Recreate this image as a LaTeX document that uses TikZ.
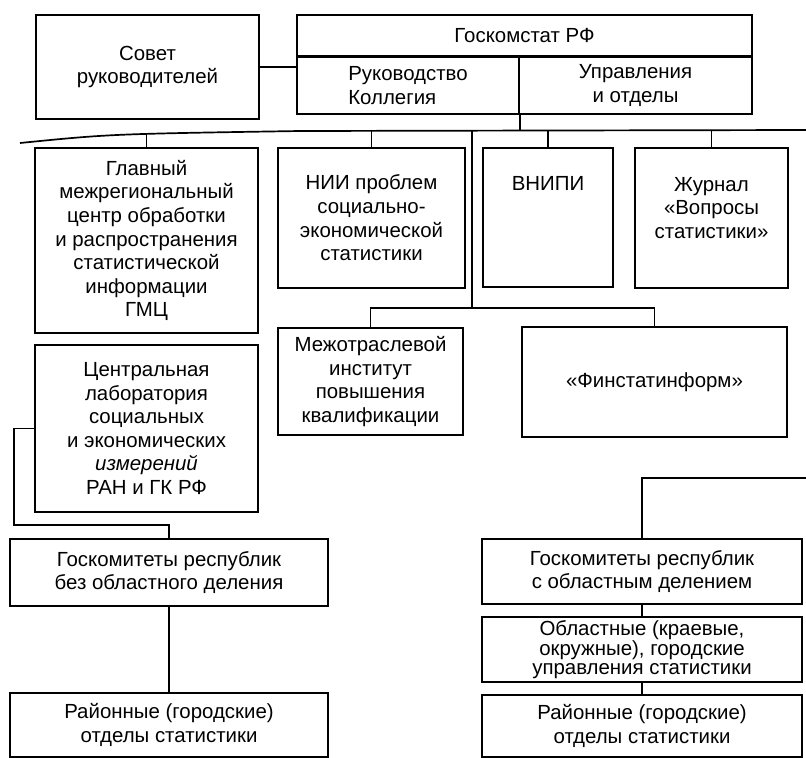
\documentclass[tikz,border=0pt]{standalone}
\usepackage{fontspec}
\setmainfont{Liberation Sans}
\usetikzlibrary{positioning}

\tikzset{
  box/.style={draw, line width=2.6bp, inner sep=0pt, align=center},
  link/.style={line width=1.7bp},
  txt/.style={align=center, inner sep=0pt},
}

\begin{document}
\begin{tikzpicture}[x=1bp,y=-1bp,font=\fontsize{20.5}{23.7}\selectfont]
\useasboundingbox (0,0) rectangle (806,758);
% Top level
\node[box, minimum width=223bp, minimum height=104bp] (sovet) at (147.5,67) {Совет\\руководителей};
\node[box, minimum width=455bp, minimum height=41bp] (gks) at (524.5,35.5) {Госкомстат РФ};
\node[box, minimum width=222bp, minimum height=57bp, align=left] (ruk) at (408,85.5) {Руководство\\Коллегия};
\node[box, minimum width=233bp, minimum height=57bp] (upr) at (635.5,85.5) {Управления\\и отделы};
% Institutions
\node[box, minimum width=223bp, minimum height=185bp] (glav) at (146.5,240.5)
  {Главный\\межрегиональный\\центр обработки\\и распространения\\статистической\\информации\\ГМЦ};
\node[box, minimum width=187bp, minimum height=140bp] (nii) at (371.5,218)
  {НИИ проблем\\социально-\\экономической\\статистики};
\node[box, minimum width=130bp, minimum height=139bp] (vnipi) at (548,217.5) {};
\node[txt] (vnipitxt) at (548,183) {ВНИПИ};
\node[box, minimum width=153bp, minimum height=140bp] (zhur) at (711.5,218) {};
\node[txt] (zhurtxt) at (711.5,208) {Журнал\\«Вопросы\\статистики»};
\node[box, minimum width=185bp, minimum height=107bp] (mezh) at (370.5,381.5)
  {Межотраслевой\\институт\\повышения\\квалификации};
\node[box, minimum width=265bp, minimum height=110bp] (finst) at (654.5,382) {«Финстатинформ»};
\node[box, minimum width=223bp, minimum height=167bp] (central) at (146.5,428.5)
  {Центральная\\лаборатория\\социальных\\и экономических\\\textit{измерений}\\РАН и ГК РФ};
% Regional level
\node[box, minimum width=318bp, minimum height=67bp] (gkbez) at (169,572.5)
  {Госкомитеты республик\\без областного деления};
\node[box, minimum width=318bp, minimum height=64bp] (rayon1) at (169,725)
  {Районные (городские)\\отделы статистики};
\node[box, minimum width=320bp, minimum height=65bp] (gkobl) at (642,571.5)
  {Госкомитеты республик\\с областным делением};
\node[box, minimum width=320bp, minimum height=65bp, font=\fontsize{20.5}{18.5}\selectfont] (obl) at (642,649.5)
  {Областные (краевые,\\окружные), городские\\управления статистики};
\node[box, minimum width=320bp, minimum height=62bp] (rayon2) at (642,726)
  {Районные (городские)\\отделы статистики};
% Connectors
\coordinate (busL) at (20,143);
\coordinate (busM) at (300,131);
\coordinate (busR) at (806,130);
\coordinate (hub) at (472,308);
\coordinate (brk) at (14,525);
\coordinate (rgt) at (806,478);
\draw[link] (sovet.east) -- (sovet.east -| gks.west);
\draw[link] (busL) .. controls (110,134) .. (busM) -- (busR);
\draw[link] (ruk.south east) -- (ruk.south east |- busM);
\draw[link] (glav.north) -- ++(0,-13);
\foreach \n in {nii,vnipi,zhur}
  \draw[link] (\n.north) -- (\n.north |- busM);
\draw[link] (hub) -- (hub |- busM);
\draw[link] (mezh.north) |- (hub) -| (finst.north);
\draw[link] (central.west) -| (brk) -| (gkbez.north);
\draw[link] (gkbez) -- (rayon1);
\draw[link] (rgt) -| (gkobl.north);
\draw[link] (gkobl) -- (obl);
\draw[link] (obl) -- (rayon2);
\end{tikzpicture}
\end{document}
